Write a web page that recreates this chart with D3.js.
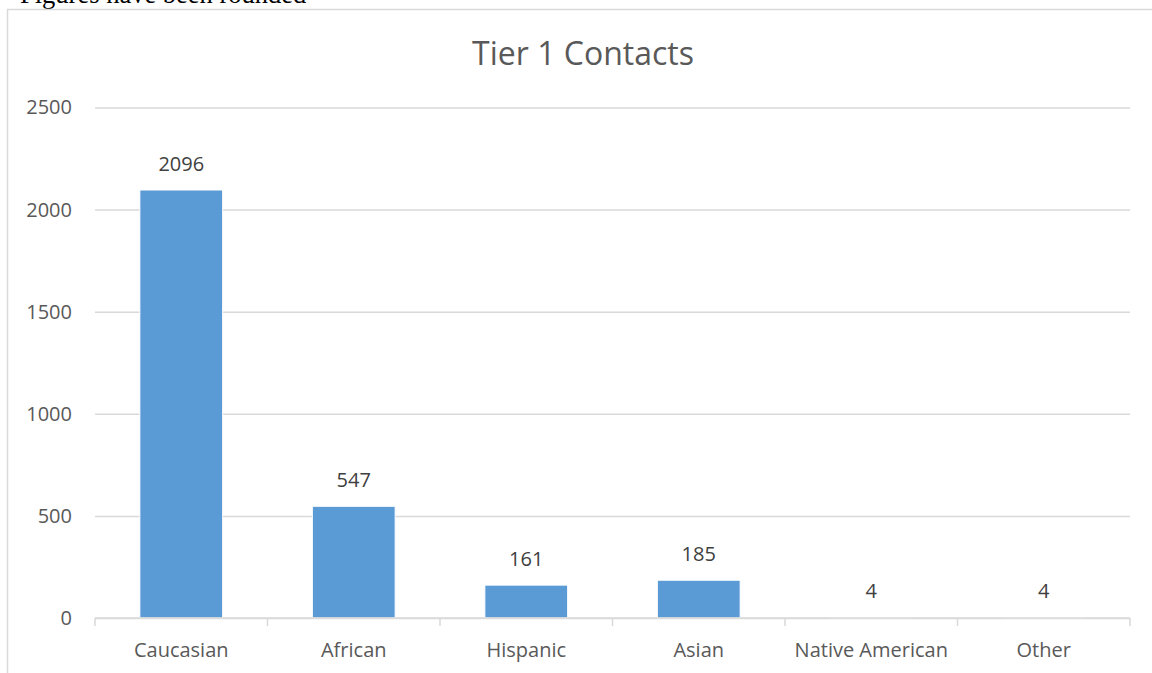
<!DOCTYPE html>
<html>
<head>
<meta charset="utf-8">
<script src="https://cdn.jsdelivr.net/npm/d3@7"></script>
<style>
  html, body { margin: 0; padding: 0; background: #fff; }
  svg { display: block; }
</style>
</head>
<body>
<svg id="chart" width="1152" height="673"></svg>
<script>
// Tier 1 contacts by group
const categories = ["Caucasian", "African", "Hispanic", "Asian", "Native American", "Other"];
const contacts = [2096, 547, 161, 185, 4, 4];
const yTicks = [0, 500, 1000, 1500, 2000, 2500];

const svg = d3.select("#chart");
const W = 1152, H = 673;
const plot = { left: 95, right: 1130, top: 107.5, bottom: 618 };
const axisFont = "'Open Sans', sans-serif";

// Note above the chart frame
svg.append("text")
  .attr("x", 20).attr("y", 3)
  .attr("font-family", "'Liberation Serif', 'Times New Roman', serif")
  .attr("font-size", 26.5)
  .attr("fill", "#000")
  .text("Figures have been rounded");

// Chart frame
svg.append("rect")
  .attr("x", 7.5).attr("y", 9.5)
  .attr("width", W + 20).attr("height", H + 20)
  .attr("fill", "none")
  .attr("stroke", "#d9d9d9")
  .attr("stroke-width", 1.5);

// Title
svg.append("text")
  .attr("x", 583).attr("y", 65)
  .attr("text-anchor", "middle")
  .attr("font-family", axisFont)
  .attr("font-size", 32)
  .attr("fill", "#595959")
  .text("Tier 1 Contacts");

const x = d3.scaleBand()
  .domain(categories)
  .range([plot.left, plot.right])
  .paddingInner(0.52)
  .paddingOuter(0.26);

const y = d3.scaleLinear()
  .domain([0, 2500])
  .range([plot.bottom, plot.top]);

// Horizontal gridlines and value labels
const yAxis = d3.axisLeft(y)
  .tickValues(yTicks)
  .tickSize(-(plot.right - plot.left))
  .tickPadding(23)
  .tickFormat(d3.format("d"));

const gy = svg.append("g")
  .attr("transform", `translate(${plot.left},0)`)
  .call(yAxis);
gy.select(".domain").remove();
gy.selectAll(".tick line")
  .attr("stroke", "#d9d9d9")
  .attr("stroke-width", 1.5);
gy.selectAll(".tick text")
  .attr("font-family", axisFont)
  .attr("font-size", 20)
  .attr("fill", "#595959");

// Bars
svg.append("g").selectAll("rect")
  .data(categories.map((c, i) => ({ c, v: contacts[i] })))
  .join("rect")
  .attr("x", d => x(d.c))
  .attr("width", x.bandwidth())
  .attr("y", d => y(d.v))
  .attr("height", d => y(0) - y(d.v))
  .attr("fill", "#5b9bd5")
  .attr("stroke", "#ffffff")
  .attr("stroke-width", 1);

// Category axis: baseline with boundary ticks
const gx = svg.append("g");
gx.append("line")
  .attr("x1", plot.left).attr("x2", plot.right)
  .attr("y1", y(0)).attr("y2", y(0))
  .attr("stroke", "#d9d9d9")
  .attr("stroke-width", 1.5);
const bounds = d3.range(categories.length + 1).map(i => plot.left + i * x.step());
gx.selectAll("line.bound")
  .data(bounds)
  .join("line")
  .attr("class", "bound")
  .attr("x1", d => d).attr("x2", d => d)
  .attr("y1", y(0)).attr("y2", y(0) + 8)
  .attr("stroke", "#d9d9d9")
  .attr("stroke-width", 1.5);
gx.selectAll("text")
  .data(categories)
  .join("text")
  .attr("x", d => x(d) + x.bandwidth() / 2)
  .attr("y", 657)
  .attr("text-anchor", "middle")
  .attr("font-family", axisFont)
  .attr("font-size", 20)
  .attr("fill", "#595959")
  .text(d => d);

// Data labels above bars
svg.append("g").selectAll("text")
  .data(categories.map((c, i) => ({ c, v: contacts[i] })))
  .join("text")
  .attr("x", d => x(d.c) + x.bandwidth() / 2)
  .attr("y", d => y(d.v) - 19)
  .attr("text-anchor", "middle")
  .attr("font-family", axisFont)
  .attr("font-size", 20)
  .attr("fill", "#404040")
  .text(d => d.v);
</script>
</body>
</html>
